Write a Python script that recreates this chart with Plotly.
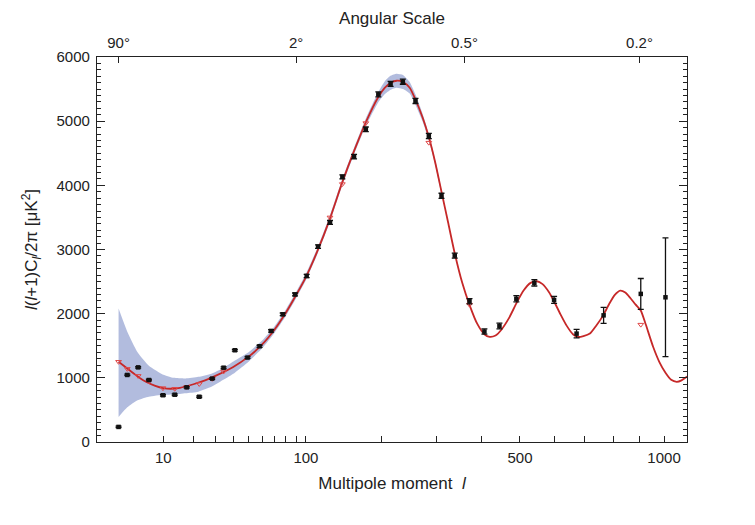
import plotly.graph_objects as go

# ---- data (multipole l, power l(l+1)C_l/2pi in uK^2) ----
data_l = [2, 3, 4.6, 6.6, 9.9, 13.3, 17.4, 22.4, 28.4, 34.4, 41, 49.3, 58, 67.2, 77.3, 88.9,
          100.8, 113.3, 127.4, 143, 158.8, 175.7, 194.8, 214.7, 235.7, 258.7, 284.3, 310,
          338.3, 371.6, 407.2, 445, 490, 540.8, 600, 672, 765, 905, 1006]
data_v = [235, 1045, 1163, 966, 729, 737, 852, 705, 988, 1158, 1430, 1316, 1492, 1731, 1990, 2300,
          2588, 3045, 3422, 4132, 4447, 4873, 5418, 5581, 5615, 5315, 4769, 3837,
          2905, 2193, 1722, 1807, 2233, 2481, 2214, 1689, 1974, 2308, 2255]
data_err = [12, 12, 12, 12, 12, 12, 12, 12, 12, 14, 14, 14, 16, 18, 20, 22,
            25, 28, 30, 32, 34, 36, 38, 40, 40, 40, 40, 40,
            40, 40, 40, 45, 48, 50, 55, 65, 125, 240, 925]

curve_l = [2, 3, 4, 5, 6, 8, 10, 12, 15, 20, 25, 30, 40, 50, 60, 70, 80, 90, 100, 113, 127, 143,
           159, 176, 195, 205, 215, 225, 236, 248, 259, 272, 284, 297, 310, 324, 338, 355, 372,
           390, 407, 420, 435, 450, 470, 490, 510, 530, 548, 565, 585, 600, 620, 640, 660, 677,
           695, 717, 740, 763, 785, 805, 826, 845, 865, 885, 905, 925, 955, 980, 1006, 1030,
           1054, 1075, 1100]
curve_v = [1250, 1145, 1060, 990, 940, 875, 840, 830, 845, 900, 960, 1030, 1170, 1330, 1520, 1750,
           2010, 2290, 2570, 2990, 3470, 4050, 4540, 4990, 5380, 5520, 5600, 5630, 5610, 5520,
           5330, 5060, 4760, 4360, 3900, 3420, 2950, 2480, 2130, 1840, 1680, 1640, 1660, 1750,
           1930, 2160, 2360, 2480, 2505, 2460, 2330, 2190, 1990, 1810, 1680, 1637, 1650, 1690,
           1820, 1970, 2150, 2290, 2360, 2330, 2240, 2140, 2050, 1830, 1480, 1250, 1080, 970,
           938, 960, 1020]

model_l = [2, 3, 4.6, 6.6, 9.9, 13.3, 17.4, 22.4, 28.4, 34.4, 127.4, 143, 175.7, 284.3, 371.6, 905]
model_v = [1250, 1140, 1030, 945, 840, 830, 860, 905, 985, 1100, 3500, 4020, 4970, 4665, 2141, 1829]

band_l = [2, 3, 4.5, 6.6, 10, 13, 17, 22, 28, 34, 41, 50, 60, 70, 80, 90, 100, 113, 127, 143, 159,
          176, 195, 205, 215, 225, 236, 248, 259, 272, 284, 297, 310]
band_hi = [2080, 1720, 1400, 1190, 1050, 1000, 990, 1015, 1065, 1150, 1270, 1400, 1580, 1800, 2060,
           2340, 2620, 3040, 3520, 4100, 4590, 5050, 5460, 5620, 5710, 5740, 5720, 5610, 5410,
           5120, 4810, 4400, 3930]
band_lo = [390, 540, 650, 705, 735, 740, 760, 785, 860, 965, 1080, 1250, 1460, 1700, 1960, 2240,
           2520, 2940, 3420, 4000, 4490, 4930, 5300, 5420, 5490, 5520, 5500, 5430, 5250, 5000,
           4710, 4320, 3870]

bottom_ticks = [10, 20, 30, 40, 50, 60, 70, 80, 90, 100, 200, 300, 400, 500, 600, 700, 800, 900, 1000]
bottom_labels = ["10", "", "", "", "", "", "", "", "", "100", "", "", "", "500", "", "", "", "", "1000"]
top_ticks = [2, 90, 360, 900]
top_labels = ["90°", "2°", "0.5°", "0.2°"]

P = 0.4  # the chart's x axis is spaced as l**0.4
def tx(vals):
    return [v ** P for v in vals]

FONT = "Liberation Sans, Arial, sans-serif"
INK = "#222222"

fig = go.Figure()
fig.add_trace(go.Scatter(x=tx(band_l) + tx(band_l)[::-1], y=band_hi + band_lo[::-1],
                         fill="toself", fillcolor="rgba(165,176,216,0.85)",
                         line=dict(width=0, shape="spline", smoothing=0.5), mode="lines",
                         hoverinfo="skip", showlegend=False))
fig.add_trace(go.Scatter(x=tx(curve_l), y=curve_v, mode="lines",
                         line=dict(color="#c62828", width=1.8, shape="spline", smoothing=0.6),
                         showlegend=False))
fig.add_trace(go.Scatter(x=tx(model_l), y=model_v, mode="markers",
                         marker=dict(symbol="triangle-down-open", size=5, color="#e04848",
                                     line=dict(width=1)),
                         showlegend=False))
fig.add_trace(go.Scatter(x=tx(data_l), y=data_v, mode="markers",
                         marker=dict(symbol="square", size=4.5, color="#111111"),
                         error_y=dict(type="data", array=data_err, color="#111111",
                                      thickness=1.3, width=3),
                         showlegend=False))
# empty trace to create the top (angular scale) axis
fig.add_trace(go.Scatter(x=[], y=[], xaxis="x2", showlegend=False))

xr = [0.745, 16.46]
fig.update_layout(
    width=755, height=525,
    margin=dict(l=89, r=76, t=49, b=91),
    paper_bgcolor="white", plot_bgcolor="white",
    font=dict(family=FONT, size=15, color=INK),
    xaxis=dict(range=xr, tickmode="array", tickvals=tx(bottom_ticks), ticktext=bottom_labels,
               ticks="inside", ticklen=6, tickcolor=INK, showline=True, linecolor=INK,
               linewidth=1.2, mirror=True, showgrid=False, zeroline=False, automargin=False,
               ticklabelstandoff=2,
               title=dict(text="Multipole moment  <i>l</i>", font=dict(size=17), standoff=12)),
    xaxis2=dict(range=xr, overlaying="x", side="top", tickmode="array", tickvals=tx(top_ticks),
                ticktext=top_labels, ticks="inside", ticklen=6, tickcolor=INK, showline=False,
                showgrid=False, zeroline=False, automargin=False, ticklabelstandoff=5,
                title=dict(text="Angular Scale", font=dict(size=17), standoff=5)),
    yaxis=dict(range=[0, 6000], tickmode="linear", tick0=0, dtick=1000, ticks="inside",
               ticklen=8, tickcolor=INK, showline=True, linecolor=INK, linewidth=1.2,
               mirror="ticks", showgrid=False, zeroline=False, automargin=False,
               ticklabelstandoff=3,
               minor=dict(dtick=100, ticks="inside", ticklen=4, tickcolor=INK, showgrid=False),
               title=dict(text="<i>l</i>(<i>l</i>+1)C<sub><i>l</i></sub>/2π [μK<sup>2</sup>]",
                          font=dict(size=17), standoff=14)),
)

fig.write_html("out.html")
